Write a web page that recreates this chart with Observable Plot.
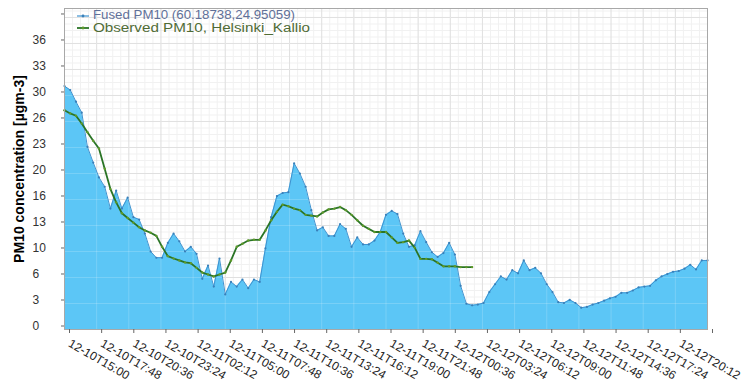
<!DOCTYPE html>
<html><head><meta charset="utf-8">
<script src="https://cdn.jsdelivr.net/npm/d3@7"></script>
<script src="https://cdn.jsdelivr.net/npm/@observablehq/plot@0.6"></script>
<style>
html,body{margin:0;padding:0;background:#fff;}
#wrap{position:relative;width:748px;height:391px;font-family:"Liberation Sans",Arial,sans-serif;}
.lg{position:absolute;left:76px;font-size:12px;line-height:11px;height:11px;white-space:nowrap;display:flex;align-items:center;}
.lg svg{margin-right:3px;flex:none;}
.lg span{display:inline-block;line-height:11px;height:11px;transform-origin:0 50%;}
#chart svg [aria-label="y-axis label"] text{font-weight:bold;font-size:14px;fill:#000;}
</style></head><body>
<div id="wrap"><div id="chart"></div>
<div class="lg" id="lg1" style="top:10px;color:#5f7099"></div>
<div class="lg" id="lg2" style="top:22.5px;color:#4f6b35"></div>
</div>
<script>
// ---- data ----
const year = "2016";
const startTime = "2016-12-10T15:00Z";
const stepMinutes = 30;
const endTime = "12-12T23:00";
const seriesNames = ["Fused PM10 (60.18738,24.95059)", "Observed PM10, Helsinki_Kallio"];
const fused = [
  31.2,30.7,29.2,27.8,23.4,21.4,19.5,18.3,15.5,17.8,
  15.5,16.9,14.4,14.1,12.3,10.0,9.2,9.2,11.1,12.3,
  11.3,10.0,10.6,9.7,6.5,8.2,5.5,9.1,4.5,6.1,
  5.5,6.4,5.3,6.4,6.1,10.4,14.4,17.1,17.5,17.6,
  21.3,20.0,18.3,15.3,12.7,13.1,12.0,12.0,13.5,12.9,
  10.6,11.8,10.9,10.9,11.4,12.5,14.7,15.2,14.8,12.3,
  10.6,10.8,12.6,11.2,9.9,9.3,9.8,11.1,9.6,5.6,
  3.3,3.1,3.2,3.4,4.8,5.8,6.8,6.4,7.6,7.2,
  8.85,7.6,7.9,7.2,5.8,4.8,3.5,3.4,3.8,3.4,
  2.8,2.9,3.2,3.4,3.7,4.0,4.2,4.7,4.7,5.0,
  5.4,5.5,5.6,6.3,6.8,7.1,7.4,7.5,7.8,8.3,
  7.7,8.85,8.85
];
const observed = [
  28.1,27.7,27.4,26.4,25.3,24.2,23.2,20.6,18.0,16.3,
  14.9,14.3,13.7,13.1,12.7,12.4,12.0,10.6,9.4,9.1,
  8.85,8.6,8.5,7.9,7.3,7.05,6.8,7.05,7.3,8.85,
  10.6,11.0,11.4,11.5,11.5,12.7,14.0,15.1,16.0,15.8,
  15.5,15.3,14.7,14.6,14.5,15.0,15.4,15.5,15.7,15.3,
  14.7,14.0,13.3,12.9,12.5,12.5,12.5,11.8,11.1,11.2,
  11.4,10.5,9.05,9.05,9.0,8.55,8.1,8.1,8.1,8.0,
  8.0,8.0
];
const xTickLabels = ["12-10T15:00","12-10T17:48","12-10T20:36","12-10T23:24","12-11T02:12","12-11T05:00","12-11T07:48","12-11T10:36","12-11T13:24","12-11T16:12","12-11T19:00","12-11T21:48","12-12T00:36","12-12T03:24","12-12T06:12","12-12T09:00","12-12T11:48","12-12T14:36","12-12T17:24","12-12T20:12"];
const yTicks = [0,3.333,6.667,10,13.333,16.667,20,23.333,26.667,30,33.333,36.667,40];
const yTickLabels = ["0","3","6","10","13","16","20","23","26","30","33","36",""];
const yMax = 41.15;

// ---- build ----
const parse = d3.utcParse("%Y-%m-%dT%H:%M");
const t0 = new Date(startTime);
const tAt = i => new Date(+t0 + i * stepMinutes * 60000);
const fusedData = fused.map((v, i) => ({t: tAt(i), v}));
const obsData = observed.map((v, i) => ({t: tAt(i), v}));
const xTicks = xTickLabels.map(s => parse(year + "-" + s));
const tEnd = parse(year + "-" + endTime);
const xGrid = [...xTicks, tEnd];
const xLab = new Map(xTicks.map((d, i) => [+d, xTickLabels[i]]));
const yLab = new Map(yTicks.map((d, i) => [d, yTickLabels[i]]));
const xMinor = [];
for (let i = 0; i < xGrid.length - 1; i++) for (let k = 1; k < 4; k++) xMinor.push(new Date(+xGrid[i] + (xGrid[i+1] - xGrid[i]) * k / 4));
const yMinor = [];
for (let i = 0; i < yTicks.length; i++) for (let k = 1; k < 4; k++) { const v = yTicks[i] + 3.3333 * k / 4; if (v < yMax) yMinor.push(v); }

const fusedFill = "#5cc6f6", fusedLine = "#3f93d0", obsLine = "#2a7426", obsDot = "#5f9a2a";

const chart = Plot.plot({
  width: 748, height: 391,
  marginLeft: 64, marginRight: 41, marginTop: 8, marginBottom: 62,
  style: {fontFamily: '"Liberation Sans", Arial, sans-serif', fontSize: "12px", background: "#fff", color: "#333"},
  x: {type: "utc", domain: [t0, tEnd]},
  y: {domain: [0, yMax]},
  marks: [
    Plot.ruleX(xMinor, {stroke: "#f1f1f1"}),
    Plot.ruleY(yMinor, {stroke: "#f1f1f1"}),
    Plot.ruleX(xGrid, {stroke: "#dadada"}),
    Plot.ruleY(yTicks, {stroke: "#dadada"}),
    Plot.areaY(fusedData, {x: "t", y: "v", fill: fusedFill}),
    Plot.ruleX(xGrid, {stroke: "#ffffff", strokeOpacity: 0.18}),
    Plot.ruleY(yTicks, {stroke: "#ffffff", strokeOpacity: 0.18}),
    Plot.lineY(fusedData, {x: "t", y: "v", stroke: fusedLine, strokeWidth: 1}),
    Plot.dot(fusedData, {x: "t", y: "v", r: 1.1, fill: "#3a7fb8"}),
    Plot.lineY(obsData, {x: "t", y: "v", stroke: obsLine, strokeWidth: 1.8}),
    Plot.dot(obsData, {x: "t", y: "v", r: 1.2, fill: obsDot}),
    Plot.frame({stroke: "#a8a8a8"}),
    Plot.axisY(yTicks, {tickFormat: d => yLab.get(d), tickSize: 3, tickPadding: 29, textAnchor: "start", dy: -3.5, fill: "#333", stroke: "#666",
      label: "PM10 concentration [µgm-3]", labelAnchor: "center", labelArrow: "none", labelOffset: 50}),
    Plot.axisX(xGrid, {tickFormat: d => xLab.get(+d) ?? "", tickRotate: 30, textAnchor: "start", lineAnchor: "middle", tickSize: 4, tickPadding: 9, dx: 5, fill: "#222", stroke: "#666", label: null})
  ]
});
document.getElementById("chart").appendChild(chart);

function legendRow(id, name, color, dotColor, w, targetWidth) {
  const el = document.getElementById(id);
  el.innerHTML = `<svg width="14" height="10"><line x1="1" x2="13" y1="5" y2="5" stroke="${color}" stroke-width="${w}"/><circle cx="7" cy="5" r="1.4" fill="${dotColor}"/></svg><span>${name}</span>`;
  const span = el.querySelector("span");
  const wNow = span.getBoundingClientRect().width;
  if (wNow > 0) span.style.transform = `scaleX(${targetWidth / wNow})`;
}
legendRow("lg1", seriesNames[0], fusedLine, "#3a7fb8", 1.2, 202);
legendRow("lg2", seriesNames[1], obsLine, obsDot, 1.8, 217);
</script>
</body></html>
